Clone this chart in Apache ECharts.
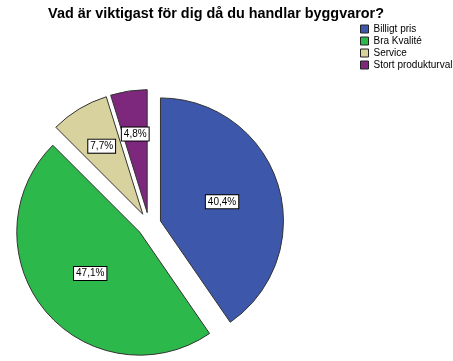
<!DOCTYPE html>
<html><head><meta charset="utf-8">
<script src="https://cdn.jsdelivr.net/npm/echarts@6/dist/echarts.min.js"></script>
<style>html,body{margin:0;padding:0;background:#fff}#c{width:453px;height:361px}</style>
</head><body><div id="c"></div>
<script>
const title = 'Vad är viktigast för dig då du handlar byggvaror?';
const categories = ['Billigt pris', 'Bra Kvalité', 'Service', 'Stort produkturval'];
const values = [40.4, 47.1, 7.7, 4.8];
const colors = ['#3d58ab', '#2db84b', '#d8d29f', '#7d287d'];
const outerLabel = [false, false, true, true];

const labelStyle = {
  position: 'inside',
  formatter: p => p.value.toFixed(1).replace('.', ',') + '%',
  fontFamily: 'Liberation Sans, Arial', fontSize: 10, color: '#000',
  backgroundColor: '#fff', borderColor: '#000', borderWidth: 1, padding: [2, 2, 1, 2]
};
const center = [149, 224.5];

const chart = echarts.init(document.getElementById('c'), null, {renderer:'canvas'});
chart.setOption({
  animation: false,
  title: {
    text: title, left: 216, top: 7, textAlign: 'center', padding: 0,
    textStyle: {fontFamily: 'Liberation Sans, Arial', fontSize: 14.4, fontWeight: 'bold', color: '#000'}
  },
  legend: {
    orient: 'vertical', left: 360, top: 24, padding: 0, itemWidth: 8, itemHeight: 8, itemGap: 2,
    icon: 'rect',
    itemStyle: {borderColor: '#222', borderWidth: 1},
    textStyle: {fontFamily: 'Liberation Sans, Arial', fontSize: 10, color: '#000'},
    data: categories
  },
  series: [{
    type: 'pie',
    center: center,
    radius: 123,
    startAngle: 90,
    clockwise: true,
    selectedMode: 'multiple',
    selectedOffset: 12,
    emphasis: {disabled: true},
    itemStyle: {borderColor: '#333', borderWidth: 1},
    label: labelStyle,
    labelLine: {show: false},
    data: categories.map((n, i) => ({
      name: n, value: values[i], selected: true,
      itemStyle: {color: colors[i]},
      label: {show: !outerLabel[i]}
    }))
  }, {
    type: 'pie',
    center: center,
    radius: [30, 123],
    startAngle: 90,
    clockwise: true,
    selectedMode: 'multiple',
    selectedOffset: 12,
    silent: true,
    emphasis: {disabled: true},
    legendHoverLink: false,
    itemStyle: {color: 'rgba(0,0,0,0)', borderWidth: 0},
    label: labelStyle,
    labelLine: {show: false},
    data: categories.map((n, i) => ({
      name: n + ' ', value: values[i], selected: true,
      label: {show: outerLabel[i]}
    }))
  }]
});
</script></body></html>
